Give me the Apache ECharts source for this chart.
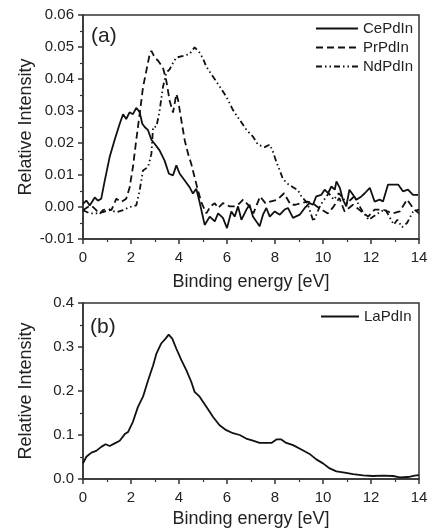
<!DOCTYPE html>
<html>
<head>
<meta charset="utf-8">
<script src="https://cdn.jsdelivr.net/npm/echarts@6/dist/echarts.min.js"></script>
<style>
html,body{margin:0;padding:0;background:#fff;}
#c{width:433px;height:532px;}
</style>
</head>
<body>
<div id="c"></div>
<script>
// ---- data (binding energy [eV], relative intensity) ----
const ceData = [[0,0.001],[0.14,0.002],[0.28,0.0005],[0.49,0.003],[0.62,0.002],[0.76,0.0026],[0.9,0.008],[1.11,0.0156],[1.32,0.021],[1.53,0.026],[1.67,0.029],[1.8,0.0275],[1.94,0.0296],[2.08,0.029],[2.22,0.031],[2.36,0.0296],[2.47,0.026],[2.57,0.025],[2.71,0.024],[2.85,0.021],[2.99,0.0197],[3.19,0.0177],[3.4,0.0145],[3.58,0.0104],[3.75,0.0099],[3.89,0.013],[4.03,0.0104],[4.24,0.0083],[4.44,0.0062],[4.58,0.0042],[4.72,0.0057],[4.86,0.0015],[5.07,-0.0056],[5.28,-0.003],[5.49,-0.0045],[5.63,-0.002],[5.83,-0.0034],[6.0,-0.0066],[6.18,-0.0014],[6.32,-0.003],[6.46,0.0002],[6.6,-0.004],[6.81,-0.0008],[6.94,0.0007],[7.08,-0.003],[7.36,-0.006],[7.5,-0.0024],[7.64,-0.0003],[7.78,-0.003],[7.99,-0.0014],[8.2,-0.0024],[8.4,-0.0008],[8.54,-0.0003],[8.75,-0.0034],[9.03,-0.0024],[9.24,-0.0003],[9.44,0.0012],[9.58,0.0007],[9.72,0.0033],[9.93,0.0038],[10.07,0.0054],[10.21,0.0043],[10.35,0.0064],[10.49,0.0054],[10.56,0.008],[10.7,0.006],[10.83,0.0023],[10.97,0.0002],[11.1,0.0054],[11.25,0.0038],[11.39,0.0023],[11.6,0.0033],[11.74,0.0043],[11.95,0.006],[12.15,0.0017],[12.36,0.0023],[12.5,0.0017],[12.71,0.007],[12.92,0.007],[13.13,0.007],[13.33,0.0049],[13.54,0.0054],[13.75,0.0038],[13.96,0.0038]];
const prData = [[0,-0.001],[0.2,0],[0.35,0.0005],[0.55,-0.001],[0.69,-0.0022],[0.83,-0.001],[1.04,-0.0005],[1.18,-0.001],[1.39,0.0026],[1.6,0.0016],[1.8,0.0026],[1.94,0.006],[2.08,0.0125],[2.22,0.021],[2.36,0.029],[2.5,0.0374],[2.64,0.0426],[2.78,0.0478],[2.85,0.0488],[2.99,0.0467],[3.13,0.0457],[3.33,0.0436],[3.47,0.0395],[3.61,0.0332],[3.75,0.0295],[3.89,0.0353],[3.96,0.0335],[4.1,0.027],[4.24,0.0208],[4.38,0.0166],[4.51,0.0135],[4.65,0.0093],[4.79,0.0052],[4.93,0.0015],[5.14,-0.002],[5.32,0.0003],[5.49,0.0012],[5.63,-0.0003],[5.83,0.0012],[6.11,0.0002],[6.32,0.0002],[6.5,0.001],[6.67,0.0023],[6.88,0.0007],[7.1,-0.002],[7.38,0.0033],[7.6,0.0012],[7.8,0.0017],[8.1,0.0023],[8.38,0.0043],[8.65,0.0007],[8.86,0.0007],[9.07,0.0012],[9.35,0.0017],[9.56,0.0012],[9.83,-0.0003],[10.2,-0.002],[10.4,-0.0003],[10.68,0.0028],[10.9,-0.0014],[11.25,0.0007],[11.6,-0.0014],[11.88,-0.003],[12.15,-0.0008],[12.5,-0.0008],[12.7,-0.0014],[12.9,-0.002],[13.2,-0.0014],[13.5,0.0023],[13.8,-0.0008],[14.0,-0.002]];
const ndData = [[0,-0.001],[0.28,-0.002],[0.55,-0.002],[0.83,-0.0016],[1.11,-0.001],[1.39,-0.0016],[1.67,-0.001],[1.94,0],[2.22,0.0005],[2.36,0.0052],[2.5,0.0114],[2.71,0.0125],[2.85,0.0166],[2.92,0.025],[3.06,0.0251],[3.19,0.03],[3.33,0.0374],[3.47,0.042],[3.61,0.043],[3.75,0.045],[3.89,0.0467],[4.17,0.0472],[4.44,0.0478],[4.65,0.0499],[4.86,0.0482],[5.0,0.0464],[5.14,0.0438],[5.42,0.0407],[5.7,0.0376],[5.97,0.0345],[6.25,0.0303],[6.53,0.0272],[6.81,0.0241],[7.08,0.022],[7.29,0.0195],[7.57,0.0187],[7.78,0.0195],[7.92,0.0172],[8.06,0.014],[8.2,0.0114],[8.33,0.0088],[8.54,0.0072],[8.75,0.0062],[8.96,0.0052],[9.1,0.0033],[9.35,0.0012],[9.6,-0.0045],[9.9,0.0007],[10.24,0.0043],[10.45,0.0023],[10.66,0.0043],[11.0,0.0012],[11.3,0.0033],[11.6,-0.0008],[11.9,-0.004],[12.1,-0.003],[12.4,-0.0014],[12.6,-0.0008],[12.8,-0.0035],[12.95,-0.0055],[13.1,-0.004],[13.3,-0.0063],[13.5,-0.005],[13.75,-0.0015],[14.0,-0.0008]];
const laData = [[0,0.0355],[0.14,0.0506],[0.35,0.06],[0.55,0.064],[0.76,0.073],[0.94,0.079],[1.11,0.075],[1.32,0.081],[1.53,0.087],[1.74,0.102],[1.88,0.107],[2.08,0.13],[2.29,0.164],[2.5,0.187],[2.71,0.224],[2.92,0.258],[3.06,0.285],[3.26,0.308],[3.44,0.319],[3.57,0.328],[3.72,0.319],[3.89,0.296],[4.1,0.27],[4.31,0.247],[4.51,0.221],[4.65,0.198],[4.86,0.187],[5.14,0.164],[5.42,0.141],[5.69,0.122],[5.97,0.111],[6.25,0.104],[6.53,0.1],[6.8,0.092],[7.08,0.087],[7.36,0.082],[7.64,0.082],[7.85,0.082],[8.06,0.09],[8.26,0.09],[8.47,0.082],[8.75,0.077],[9.1,0.067],[9.44,0.057],[9.72,0.0446],[10.0,0.0355],[10.28,0.024],[10.56,0.0174],[10.9,0.0144],[11.25,0.0113],[11.67,0.0083],[12.08,0.0068],[12.5,0.0076],[12.92,0.0068],[13.2,0.0038],[13.54,0.0045],[13.82,0.0076],[14.0,0.009]];

const topSeriesNames = ['CePdIn','PrPdIn','NdPdIn'];
const bottomSeriesNames = ['LaPdIn'];
const xTicks = {min:0, max:14, interval:2};
const yTopTicks = {min:-0.01, max:0.06, interval:0.01};
const yBotTicks = {min:0, max:0.4, interval:0.1};
const xName = 'Binding energy [eV]';
const yName = 'Relative Intensity';

// ---- styling ----
const FONT = '"Liberation Sans", Arial, sans-serif';
const TXT = '#222';
const AX = '#333';

function xAxis(gi, gap){
  return {
    type:'value', gridIndex:gi, min:xTicks.min, max:xTicks.max, interval:xTicks.interval,
    name:xName, nameLocation:'middle', nameGap:gap, nameMoveOverlap:false,
    nameTextStyle:{fontFamily:FONT, fontSize:18, color:TXT},
    axisLine:{show:true, onZero:false, lineStyle:{color:AX, width:1.5}},
    axisTick:{show:true, inside:false, length:5, lineStyle:{color:AX, width:1.5}},
    minorTick:{show:true, splitNumber:2, length:3, lineStyle:{color:AX, width:1.2}},
    axisLabel:{fontFamily:FONT, fontSize:15, color:TXT, margin:11},
    splitLine:{show:false}
  };
}
function yAxis(gi, t, dec){
  return {
    type:'value', gridIndex:gi, min:t.min, max:t.max, interval:t.interval,
    name:yName, nameLocation:'middle', nameGap:48, nameRotate:90, nameMoveOverlap:false,
    nameTextStyle:{fontFamily:FONT, fontSize:18, color:TXT},
    axisLine:{show:true, onZero:false, lineStyle:{color:AX, width:1.5}},
    axisTick:{show:true, inside:false, length:5, lineStyle:{color:AX, width:1.5}},
    minorTick:{show:true, splitNumber:2, length:3, lineStyle:{color:AX, width:1.2}},
    axisLabel:{fontFamily:FONT, fontSize:15, color:TXT, margin:9,
      formatter:v=>Number(v).toFixed(dec)},
    splitLine:{show:false}
  };
}
function line(name, data, xi, yi, type){
  return {
    name, type:'line', xAxisIndex:xi, yAxisIndex:yi, data, symbol:'none',
    smooth:false, animation:false,
    lineStyle:{color:'#111', width:1.8, type},
    itemStyle:{color:'#111'}
  };
}
const legendCommon = {
  orient:'vertical', itemHeight:14, itemGap:4, selectedMode:false,
  textStyle:{fontFamily:FONT, fontSize:15, color:TXT},
  itemStyle:{color:'rgba(0,0,0,0)', borderColor:'rgba(0,0,0,0)', borderWidth:0}
};

const chart = echarts.init(document.getElementById('c'), null, {renderer:'canvas'});
chart.setOption({
  backgroundColor:'#fff',
  animation:false,
  grid:[
    {left:83, width:336, top:15, height:224, show:true, borderColor:AX, borderWidth:1.5, backgroundColor:'transparent'},
    {left:83, width:336, top:303, height:176, show:true, borderColor:AX, borderWidth:1.5, backgroundColor:'transparent'}
  ],
  xAxis:[xAxis(0, 34), xAxis(1, 31)],
  yAxis:[yAxis(0, yTopTicks, 2), yAxis(1, yBotTicks, 1)],
  legend:[
    Object.assign({data:topSeriesNames, left:310, top:16, itemWidth:42}, legendCommon),
    Object.assign({data:bottomSeriesNames, left:315, top:304, itemWidth:38}, legendCommon)
  ],
  graphic:[
    {type:'text', left:91, top:26, style:{text:'(a)', font:'21px '+FONT, fill:TXT}},
    {type:'text', left:90, top:317, style:{text:'(b)', font:'21px '+FONT, fill:TXT}}
  ],
  series:[
    line(topSeriesNames[0], ceData, 0, 0, 'solid'),
    line(topSeriesNames[1], prData, 0, 0, [7,4]),
    line(topSeriesNames[2], ndData, 0, 0, [6,3,1.5,3,1.5,3]),
    line(bottomSeriesNames[0], laData, 1, 1, 'solid')
  ]
});
</script>
</body>
</html>
